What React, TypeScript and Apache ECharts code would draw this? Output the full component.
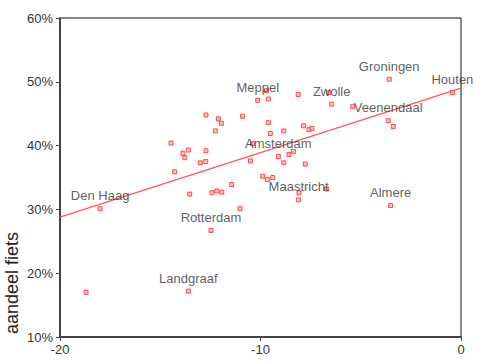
import React, { useEffect, useRef } from "react";
import * as echarts from "echarts";

// x-values (horizontal axis), share of cycling (%), city labels ("" = none)
const pointX = [
  -18.0, -18.7, -13.6, -12.47, -13.53, -12.42, -12.18, -11.93, -11.44, -11.02,
  -14.46, -14.28, -13.87, -13.77, -13.6, -13.0, -12.73, -12.72, -12.72, -12.25,
  -12.1, -11.95, -10.9, -10.5, -9.7, -10.14, -9.61, -8.12, -6.45, -6.6,
  -9.61, -9.51, -8.84, -7.85, -7.58, -7.43, -10.4, -9.11, -8.84, -8.58,
  -8.36, -7.77, -9.89, -9.66, -9.39, -8.08, -8.1, -6.7, -3.58, -0.43,
  -5.4, -3.63, -3.38, -3.51,
];
const pointY = [
  30.1, 17.0, 17.2, 26.7, 32.4, 32.6, 32.9, 32.7, 33.9, 30.1,
  40.4, 35.9, 38.8, 38.1, 39.3, 37.3, 37.5, 39.2, 44.8, 42.3,
  44.2, 43.5, 44.6, 37.6, 48.6, 47.1, 47.3, 48.0, 46.5, 48.3,
  43.6, 41.9, 42.3, 43.1, 42.5, 42.7, 40.3, 38.3, 37.3, 38.6,
  39.1, 37.1, 35.2, 34.7, 35.0, 32.6, 31.5, 33.2, 50.4, 48.3,
  46.1, 43.9, 43.0, 30.6,
];
const pointName = [
  "Den Haag", "", "Landgraaf", "Rotterdam", "", "", "", "", "", "",
  "", "", "", "", "", "", "", "", "", "",
  "", "", "", "", "", "Meppel", "", "", "Zwolle", "",
  "", "", "", "", "", "", "", "Amsterdam", "", "",
  "", "", "", "", "", "", "Maastricht", "", "Groningen", "Houten",
  "", "Veenendaal", "", "Almere",
];
// regression line endpoints
const fitX = [-20, 0];
const fitY = [28.8, 49.0];

const xTicks = { min: -20, max: 0, interval: 10 };
const yTicks = { min: 10, max: 60, interval: 10 };
const yAxisTitle = "aandeel fiets";

const FONT = "Liberation Sans, Arial, Helvetica, sans-serif";

export default function App() {
  const ref = useRef<HTMLDivElement>(null);
  useEffect(() => {
    if (!ref.current) return;
    const chart = echarts.init(ref.current, undefined, { renderer: "svg" });
    const data = pointX.map((x, i) => {
      const item: any = { value: [x, pointY[i]], name: pointName[i] };
      if (pointName[i]) {
        item.label = {
          show: true,
          position: "top",
          distance: 4,
          formatter: "{b}",
          fontFamily: FONT,
          fontSize: 13,
          color: "#333",
        };
      }
      return item;
    });
    chart.setOption({
      animation: false,
      backgroundColor: "#fff",
      grid: {
        left: 60,
        right: 39,
        top: 18,
        bottom: 27,
        show: true,
        borderColor: "#111",
        borderWidth: 1,
        backgroundColor: "#fff",
      },
      xAxis: {
        type: "value",
        min: xTicks.min,
        max: xTicks.max,
        interval: xTicks.interval,
        splitLine: { show: false },
        axisLine: { show: true, onZero: false, lineStyle: { color: "#444", width: 2 } },
        axisTick: { show: true, length: 4, lineStyle: { color: "#444" } },
        axisLabel: { fontFamily: FONT, fontSize: 13, color: "#333", margin: 6 },
      },
      yAxis: {
        type: "value",
        min: yTicks.min,
        max: yTicks.max,
        interval: yTicks.interval,
        splitLine: { show: false },
        axisLine: { show: true, onZero: false, lineStyle: { color: "#444", width: 2 } },
        axisTick: { show: true, length: 4, lineStyle: { color: "#444" } },
        axisLabel: {
          fontFamily: FONT,
          fontSize: 13,
          color: "#333",
          margin: 7,
          formatter: "{value}%",
        },
      },
      graphic: [
        {
          type: "text",
          x: 12,
          y: 283,
          rotation: Math.PI / 2,
          z: 100,
          style: {
            text: yAxisTitle,
            fontFamily: FONT,
            fontSize: 18,
            fill: "#222",
            align: "center",
            verticalAlign: "middle",
          },
        },
      ],
      series: [
        {
          type: "line",
          data: fitX.map((x, i) => [x, fitY[i]]),
          symbol: "none",
          lineStyle: { color: "#f55", width: 1.2 },
          z: 2,
        },
        {
          type: "scatter",
          data,
          symbol: "rect",
          symbolSize: 4,
          itemStyle: { color: "#ffb0b0", borderColor: "#ff2a2a", borderWidth: 1 },
          z: 3,
        },
      ],
    });
    return () => chart.dispose();
  }, []);
  return (
    <div
      ref={ref}
      style={{ position: "absolute", left: 0, top: 0, width: 500, height: 364 }}
    />
  );
}
